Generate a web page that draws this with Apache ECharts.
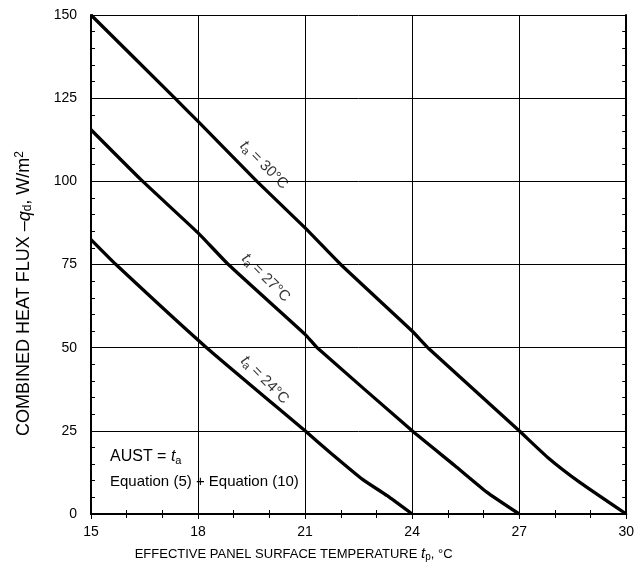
<!DOCTYPE html>
<html>
<head>
<meta charset="utf-8">
<script src="https://cdn.jsdelivr.net/npm/echarts@6/dist/echarts.min.js"></script>
<style>html,body{margin:0;padding:0;background:#fff}#c{width:637px;height:571px}</style>
</head>
<body>
<div id="c"></div>
<script>
// Data
var xTicks = [15, 18, 21, 24, 27, 30];
var yTicks = [0, 25, 50, 75, 100, 125, 150];
var ta30 = [[15,150],[17.35,125],[18,118],[19.65,100],[21,86],[22,75],[24,55],[24.44,50],[27,25],[27.8,17],[28.7,9.5],[30,0]];
var ta27 = [[15,115.5],[16.4,100.5],[18,84.5],[18.85,75],[21,54],[21.34,50],[24,25],[25.2,14.5],[26.1,6.5],[27,0]];
var ta24 = [[15,82.5],[15.7,75],[18.24,50],[21,25],[21.7,18.5],[22.6,10.5],[23.3,5.5],[24,0]];
var curveNames = ['30', '27', '24'];
var labelAnchors = [[19.85,104.9],[19.9,71],[19.87,40.3]];

var FONT = 'Liberation Sans, Arial, sans-serif';
var chart = echarts.init(document.getElementById('c'));

function curve(data) {
  return {type:'line', data:data, xAxisIndex:0, yAxisIndex:0, symbol:'none',
    smooth:0.15, lineStyle:{color:'#000', width:3.3}, z:5, silent:true};
}
function labelSeries(pt, name) {
  return {type:'scatter', data:[pt], symbolSize:0, silent:true, z:6,
    label:{show:true, position:'inside', rotate:-45, color:'#000',
      fontFamily:FONT, fontSize:15,
      formatter:'{i|t}{sub|a} = ' + name + '°C',
      rich:{i:{fontStyle:'italic', fontSize:16, fontFamily:FONT},
            sub:{fontSize:11, fontFamily:FONT, padding:[7,0,0,0]}}}};
}

var axisCommon = {
  type:'value', axisLine:{show:true, lineStyle:{color:'#000', width:2}},
  axisTick:{show:true, inside:true, length:5, lineStyle:{color:'#000', width:1}},
  minorTick:{show:true, length:4, lineStyle:{color:'#000', width:1}}
};

chart.setOption({
  animation:false,
  backgroundColor:'#fff',
  grid:{left:91, right:4, top:15, bottom:57},
  xAxis:[
    Object.assign({}, axisCommon, {position:'bottom', min:15, max:30, interval:3,
      minorTick:Object.assign({}, axisCommon.minorTick, {splitNumber:3}),
      axisLabel:{color:'#000', fontFamily:FONT, fontSize:14, margin:11,
        formatter:function(v){return xTicks.indexOf(v)>=0? String(v):'';}},
      splitLine:{show:true, lineStyle:{color:'#000', width:1}},
      name:'EFFECTIVE PANEL SURFACE TEMPERATURE {i|t}{sub|p}, °C',
      nameLocation:'middle', nameGap:32,
      nameTextStyle:{color:'#000', fontFamily:FONT, fontSize:13, padding:[0,130,0,0],
        rich:{i:{fontStyle:'italic', fontSize:15, fontFamily:FONT},
              sub:{fontSize:10, fontFamily:FONT, padding:[6,0,0,0]}}}}),
    Object.assign({}, axisCommon, {position:'top', min:15, max:30, interval:3,
      minorTick:Object.assign({}, axisCommon.minorTick, {splitNumber:3}),
      axisLabel:{show:false}, splitLine:{show:false}})
  ],
  yAxis:[
    Object.assign({}, axisCommon, {position:'left', min:0, max:150, interval:25,
      minorTick:Object.assign({}, axisCommon.minorTick, {splitNumber:5}),
      axisLabel:{color:'#000', fontFamily:FONT, fontSize:14, margin:14,
        formatter:function(v){return yTicks.indexOf(v)>=0? String(v):'';}},
      splitLine:{show:true, lineStyle:{color:'#000', width:1}},
      name:'COMBINED HEAT FLUX \u2013{i|q}{sub|d}, W/m{sup|2}',
      nameLocation:'middle', nameGap:56, nameRotate:90,
      nameTextStyle:{color:'#000', fontFamily:FONT, fontSize:18, padding:[0,58,0,0],
        rich:{i:{fontStyle:'italic', fontSize:18, fontFamily:FONT},
              sub:{fontSize:12, fontFamily:FONT, padding:[7,0,0,0]},
              sup:{fontSize:12, fontFamily:FONT, padding:[0,0,9,0]}}}}),
    Object.assign({}, axisCommon, {position:'right', min:0, max:150, interval:25,
      minorTick:Object.assign({}, axisCommon.minorTick, {splitNumber:5}),
      axisLabel:{show:false}, splitLine:{show:false}})
  ],
  graphic:[
    {type:'text', left:110, top:449, silent:true,
      style:{text:'AUST = {i|t}{sub|a}', fill:'#000', font:'16px ' + FONT,
        rich:{i:{fontStyle:'italic', fontSize:16, fontFamily:FONT},
              sub:{fontSize:11, fontFamily:FONT, padding:[7,0,0,0]}}}},
    {type:'text', left:110, top:474, silent:true,
      style:{text:'Equation (5) + Equation (10)', fill:'#000', font:'15px ' + FONT}}
  ],
  series:[
    curve(ta30), curve(ta27), curve(ta24),
    labelSeries(labelAnchors[0], curveNames[0]),
    labelSeries(labelAnchors[1], curveNames[1]),
    labelSeries(labelAnchors[2], curveNames[2])
  ]
});
</script>
</body>
</html>
